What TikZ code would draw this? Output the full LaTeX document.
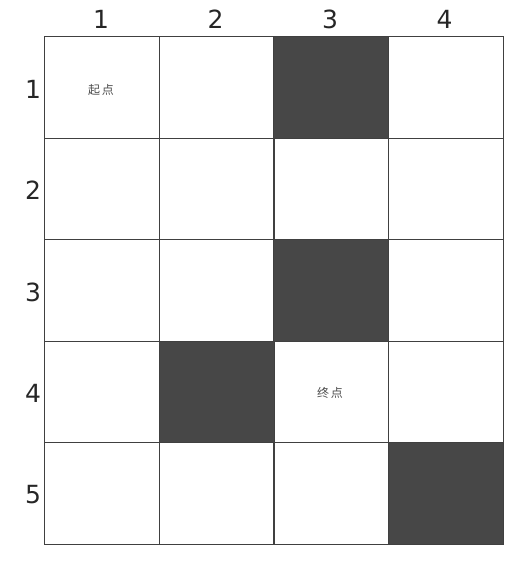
\documentclass[tikz,border=0pt]{standalone}
\usepackage{fontspec}
\setmainfont{DejaVu Sans}
\newfontfamily\cjk{Noto Sans CJK SC}
\begin{document}
\begin{tikzpicture}[x=1pt,y=-1pt,
  cell/.style={draw=black!75,line width=1pt,minimum width=115pt,minimum height=101.5pt,inner sep=0pt,anchor=north west},
  wall/.style={cell,fill=black!72},
  hdr/.style={font=\fontsize{25}{25}\selectfont,text=black!85,inner sep=0pt},
  tag/.style={font=\cjk\fontsize{12}{12}\selectfont,text=black!70,inner sep=0pt}]
\useasboundingbox (0,0) rectangle (528,570);
\foreach \r in {1,...,5}{
  \foreach \c in {1,...,4}{
    \node[cell] (c\r\c) at ({44+(\c-1)*114.5},{36+(\r-1)*101.5}) {};
  }
}
\foreach \r/\c in {1/3,3/3,4/2,5/4}{
  \node[wall] (w\r\c) at ({44+(\c-1)*114.5},{36+(\r-1)*101.5}) {};
}
\foreach \c in {1,...,4}{
  \node[hdr] (h\c) at ({101+(\c-1)*114.5},19) {\c};
}
\foreach \r in {1,...,5}{
  \node[hdr] (v\r) at (33,{89+(\r-1)*101.5}) {\r};
}
\node[tag] (start) at (101,90) {起\hspace{2pt}点};
\node[tag] (goal) at (330,393) {终\hspace{2pt}点};
\end{tikzpicture}
\end{document}
